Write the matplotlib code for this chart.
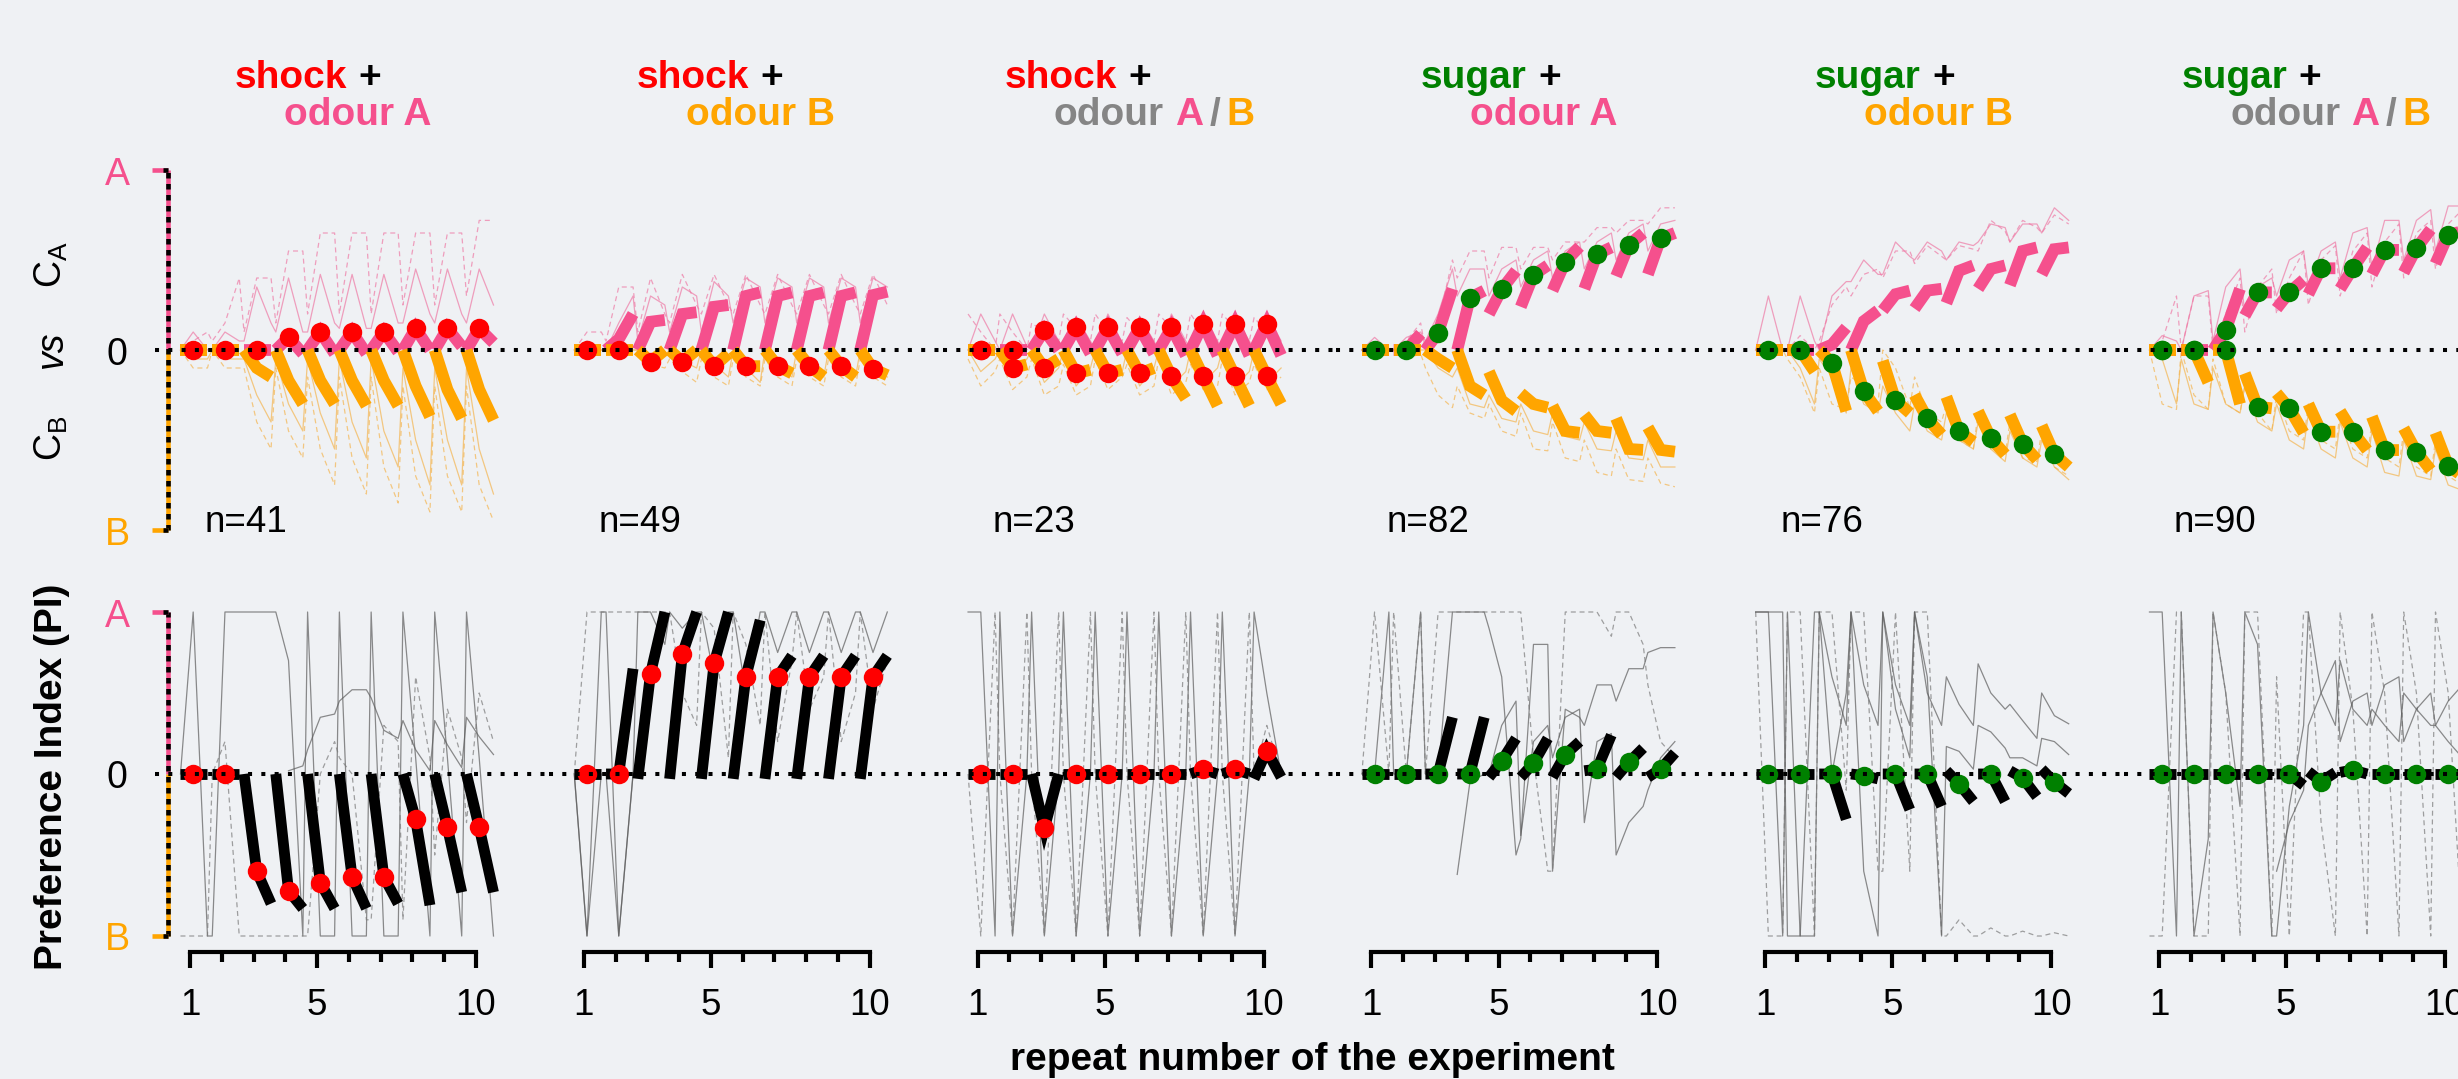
import numpy as np
import matplotlib
matplotlib.use("Agg")
import matplotlib.pyplot as plt

nan = np.nan

# ---------------- categories / labels ----------------
repeats = [1, 2, 3, 4, 5, 6, 7, 8, 9, 10]
xtick_values = [1, 5, 10]
us_names = ["shock", "shock", "shock", "sugar", "sugar", "sugar"]
cs_names = ["A", "B", "A/B", "A", "B", "A/B"]
n_values = [41, 49, 23, 82, 76, 90]
dot_sides = ["A", "B", "AB", "A", "B", "AB"]

# ---------------- panel 1: shock + odour A ----------------
P1_A_med = [(0,0,0),(0,0,0),(0,0,0),(0,.07,-.02),(0,.10,-.02),(0,.10,-.02),(0,.10,-.01),(0,.12,0),(0,.12,.02),(0,.12,.04)]
P1_B_med = [(0,0,0),(0,0,0),(0,-.10,-.15),(0,-.17,-.30),(0,-.17,-.30),(0,-.17,-.31),(0,-.17,-.31),(0,-.20,-.37),(0,-.22,-.38),(0,-.22,-.39)]
P1_A_s = [(0,.1,0),(0,.1,.05),(.05,.35,.15),(.1,.4,.1),(.1,.42,.15),(.12,.42,.12),(.12,.42,.15),(.15,.45,.2),(.15,.45,.2),(.15,.45,.25)]
P1_A_d = [(0,.05,.1),(.05,.15,.4),(.1,.4,.4),(.15,.55,.55),(.2,.65,.65),(.2,.65,.65),(.2,.65,.65),(.25,.65,.65),(.25,.65,.65),(.3,.72,.72)]
P1_B_s = [(0,-.05,-.05),(0,-.05,-.05),(-.05,-.25,-.4),(-.05,-.3,-.45),(-.05,-.35,-.55),(-.05,-.4,-.6),(-.05,-.45,-.65),(-.1,-.5,-.75),(-.1,-.5,-.75),(-.1,-.55,-.8)]
P1_B_d = [(0,-.1,-.1),(0,-.1,-.1),(-.1,-.4,-.55),(-.1,-.45,-.6),(-.15,-.55,-.75),(-.15,-.6,-.8),(-.15,-.65,-.85),(-.2,-.7,-.9),(-.2,-.7,-.9),(-.2,-.75,-.95)]
P1_PI_med = [(0,0,0),(0,0,0),(0,-.60,-.80),(0,-.72,-.83),(0,-.67,-.83),(0,-.635,-.83),(0,-.635,-.80),(0,-.28,-.81),(0,-.33,-.73),(0,-.33,-.73)]
P1_PI_s = [(0,1,-1),(-1,1,1),(1,1,1),(1,.7,-1),(1,-1,-1),(1,-1,-1),(1,-1,-1),(1,.1,-1),(1,.1,-1),(1,.1,-1)]
P1_PI_d = [(-1,-1,-1),(0,.2,-1),(-1,-1,-1),(-1,-1,-1),(-1,0,.2),(.1,0,-.9),(-.9,.3,.2),(-.9,.6,.1),(-.5,.4,.1),(-.3,.5,.2)]
P1_PI_e = [(nan,nan,nan),(nan,nan,nan),(nan,nan,nan),(nan,.02,.05),(.15,.35,.37),(.45,.52,.52),(.47,.27,.22),(.33,.15,.02),(.33,.18,.04),(.35,.23,.12)]

# ---------------- panel 2: shock + odour B ----------------
P2_A_med = [(0,0,0),(0,.06,.20),(0,.157,.167),(0,.20,.21),(0,.24,.25),(0,.30,.32),(0,.30,.32),(0,.30,.32),(0,.30,.32),(0,.305,.324)]
P2_B_med = [(0,0,0),(0,0,0),(0,-.065,0),(0,-.065,0),(0,-.09,-.02),(0,-.09,-.09),(0,-.09,-.13),(0,-.09,-.15),(0,-.09,-.15),(0,-.105,-.14)]
P2_A_s = [(0,.05,0),(0,.15,.3),(.05,.3,.25),(.1,.35,.3),(.1,.38,.3),(.15,.4,.35),(.15,.4,.35),(.15,.4,.35),(.15,.4,.35),(.15,.4,.35)]
P2_A_d = [(0,.1,.1),(.05,.35,.35),(.1,.4,.2),(.15,.42,.25),(.2,.42,.25),(.2,.42,.25),(.2,.42,.25),(.2,.42,.25),(.2,.42,.25),(.2,.42,.25)]
P2_B_s = [(0,-.02,0),(0,-.02,0),(0,-.05,-.03),(0,-.06,-.1),(0,-.08,-.15),(0,-.1,-.18),(0,-.1,-.15),(0,-.1,-.15),(0,-.1,-.15),(0,-.1,-.15)]
P2_B_d = [(0,-.05,0),(0,-.05,0),(0,-.08,-.1),(-.05,-.12,-.18),(-.05,-.15,-.2),(-.05,-.15,-.2),(-.05,-.15,-.2),(-.05,-.15,-.2),(-.05,-.15,-.2),(-.05,-.15,-.2)]
P2_PI_med = [(0,0,0),(0,0,.65),(-.03,.62,1.0),(-.03,.74,1.0),(-.03,.683,1.0),(-.03,.60,.95),(-.03,.60,.73),(-.03,.60,.73),(-.03,.60,.73),(-.03,.60,.73)]
P2_PI_s = [(0,-1,1),(1,-1,0),(1,1,.8),(1,.9,1),(1,.6,1),(1,.5,1),(1,.75,1),(1,.75,1),(1,.75,1),(1,.75,1)]
P2_PI_d = [(0,1,1),(1,1,1),(1,1,1),(1,.5,.3),(1,.9,.1),(1,.8,.3),(1,.2,.7),(1,.4,.6),(1,.2,.5),(1,.4,.7)]
P2_PI_e = [(0,-1,0),(0,-1,0),(nan,nan,nan),(nan,nan,nan),(nan,nan,nan),(nan,nan,nan),(nan,nan,nan),(nan,nan,nan),(nan,nan,nan),(nan,nan,nan)]

# ---------------- panel 3: shock + odour A/B ----------------
P3_A_med = [(0,0,0),(0,0,0),(0,.11,0),(0,.125,-.02),(0,.125,-.02),(0,.125,-.02),(0,.125,-.03),(0,.147,-.03),(0,.147,-.03),(0,.147,-.03)]
P3_B_med = [(0,0,0),(0,-.10,-.08),(0,-.10,-.05),(0,-.13,-.11),(0,-.13,-.11),(0,-.13,-.10),(0,-.147,-.27),(0,-.147,-.31),(0,-.147,-.31),(0,-.147,-.30)]
P3_A_s = [(0,.2,.05),(0,.2,.02),(0,.2,.05),(0,.18,.05),(0,.2,.04),(0,.18,.05),(0,.2,.05),(0,.2,.05),(0,.18,.05),(0,.2,.05)]
P3_A_d = [(.2,.1,0),(.2,.1,0),(.15,.1,.05),(.2,.12,.05),(.2,.1,.05),(.18,.1,.05),(.2,.12,.05),(.2,.1,.05),(.2,.12,.05),(.18,.1,.05)]
P3_B_s = [(0,-.12,-.05),(0,-.15,-.05),(0,-.18,-.1),(0,-.2,-.1),(0,-.18,-.12),(0,-.2,-.1),(0,-.2,-.12),(0,-.18,-.1),(0,-.2,-.12),(0,-.18,-.1)]
P3_B_d = [(-.05,-.2,-.12),(-.05,-.22,-.15),(-.05,-.25,-.2),(-.08,-.25,-.2),(-.05,-.22,-.15),(-.08,-.25,-.2),(-.05,-.25,-.18),(-.08,-.22,-.2),(-.05,-.25,-.18),(-.08,-.22,-.15)]
P3_PI_med = [(0,0,0),(0,0,0),(0,-.336,0),(0,0,0),(0,0,0),(0,0,0),(0,0,0),(0,.028,0),(0,.028,0),(-.03,.145,-.02)]
P3_PI_s = [(1,1,-1),(1,-1,0),(1,-1,0),(1,-1,0),(1,-1,0),(1,-1,0),(1,-1,0),(1,-1,0),(1,-1,0),(1,.5,0)]
P3_PI_d = [(0,-1,1),(0,-1,1),(0,-1,1),(0,-1,1),(0,-1,1),(0,-1,1),(0,-1,1),(0,-1,1),(0,-1,1),(0,.3,0)]
P3_PI_e = [(nan,nan,nan)] * 10

# ---------------- panel 4: sugar + odour A ----------------
P4_A_med = [(0,0,0),(0,0,.09),(0,.096,.34),(0,.29,.33),(.20,.337,.44),(.24,.417,.47),(.33,.49,.574),(.34,.533,.57),(.41,.583,.65),(.42,.62,.65)]
P4_B_med = [(0,0,0),(0,0,0),(0,-.05,-.10),(0,-.20,-.25),(-.12,-.28,-.34),(-.24,-.30,-.32),(-.31,-.45,-.46),(-.36,-.45,-.46),(-.38,-.55,-.555),(-.43,-.555,-.565)]
P4_A_s = [(0,.07,0),(0,.07,.1),(.05,.2,.45),(.3,.45,.45),(.3,.45,.5),(.35,.5,.55),(.4,.55,.6),(.45,.6,.65),(.5,.65,.7),(.55,.7,.72)]
P4_A_d = [(0,.03,0),(0,.05,.15),(0,.15,.5),(.4,.55,.55),(.4,.57,.57),(.45,.57,.57),(.5,.6,.6),(.6,.68,.68),(.65,.72,.72),(.7,.79,.79)]
P4_B_s = [(0,-.02,0),(0,-.02,0),(0,-.1,-.15),(-.1,-.3,-.32),(-.25,-.38,-.4),(-.3,-.45,-.47),(-.35,-.48,-.5),(-.4,-.55,-.56),(-.45,-.6,-.61),(-.5,-.65,-.65)]
P4_B_d = [(0,-.05,0),(0,-.05,-.02),(-.1,-.25,-.32),(-.2,-.35,-.38),(-.3,-.45,-.48),(-.35,-.55,-.56),(-.4,-.6,-.62),(-.5,-.68,-.7),(-.55,-.72,-.73),(-.6,-.74,-.76)]
P4_PI_med = [(0,0,0),(0,0,0),(0,0,.35),(0,0,.35),(-.02,.08,.22),(-.02,.066,.22),(-.02,.12,.20),(.02,.03,.24),(-.02,.072,.16),(-.02,.03,.13)]
P4_PI_s = [(0,0,1),(0,0,1),(0,0,1),(1,1,1),(.9,.6,-.5),(-.4,.8,.8),(-.6,.4,.35),(.3,.55,.55),(.45,.65,.65),(.75,.78,.78)]
P4_PI_d = [(0,1,0),(1,0,1),(0,1,1),(1,1,1),(1,1,1),(1,.1,-.6),(-.6,1,1),(1,1,.85),(1,1,.8),(.55,.2,.1)]
P4_PI_e = [(nan,nan,nan),(nan,nan,nan),(nan,nan,nan),(-.62,-.05,0),(0,.3,.45),(-.38,.2,.3),(.1,.35,.4),(-.3,.2,.25),(-.5,-.3,-.2),(-.1,.1,.2)]

# ---------------- panel 5: sugar + odour B ----------------
P5_A_med = [(0,0,0),(0,0,0),(0,.03,.125),(0,.16,.22),(.22,.31,.33),(.23,.33,.34),(.26,.44,.47),(.34,.45,.47),(.36,.55,.57),(.42,.56,.57)]
P5_B_med = [(0,0,0),(0,0,-.12),(0,-.072,-.34),(0,-.228,-.34),(-.06,-.28,-.35),(-.25,-.38,-.47),(-.26,-.452,-.51),(-.34,-.49,-.58),(-.36,-.52,-.61),(-.42,-.58,-.65)]
P5_A_s = [(0,.3,0),(0,.3,.05),(0,.3,.38),(.38,.5,.42),(.42,.6,.52),(.5,.6,.55),(.5,.6,.58),(.6,.7,.68),(.6,.7,.7),(.65,.79,.72)]
P5_A_d = [(0,.05,0),(0,.08,0),(.05,.25,.35),(.3,.42,.45),(.4,.55,.55),(.48,.58,.52),(.5,.58,.56),(.55,.72,.66),(.6,.72,.68),(.65,.75,.7)]
P5_B_s = [(0,-.03,0),(0,-.1,-.3),(-.05,-.15,-.35),(-.1,-.3,-.35),(-.2,-.35,-.45),(-.3,-.45,-.5),(-.35,-.5,-.55),(-.4,-.55,-.62),(-.45,-.6,-.65),(-.5,-.65,-.72)]
P5_B_d = [(0,-.05,0),(-.05,-.15,-.35),(-.1,-.3,-.33),(-.15,-.2,-.3),(0,-.1,-.32),(-.15,-.35,-.4),(-.3,-.5,-.55),(-.35,-.55,-.58),(-.4,-.6,-.62),(-.45,-.65,-.7)]
P5_PI_med = [(0,0,0),(0,0,0),(0,0,-.28),(0,-.01,-.03),(0,0,-.22),(0,0,-.20),(.02,-.06,-.17),(0,0,-.17),(.02,-.024,-.14),(.03,-.05,-.12)]
P5_PI_s = [(1,1,-1),(1,-1,-1),(1,.6,.3),(1,.55,.3),(1,.55,.3),(1,.5,.3),(.6,.43,.3),(.68,.5,.4),(.43,.33,.22),(.5,.36,.31)]
P5_PI_d = [(1,-1,-1),(1,1,-1),(1,1,-.1),(1,1,-.6),(-.6,1,-.6),(1,1,-1),(-1,-.9,-1),(-1,-.95,-1),(-1,-.97,-1),(-1,-.98,-1)]
P5_PI_e = [(1,1,1),(-1,-1,1),(1,0,.5),(1,-.6,-1),(1,.4,.1),(1,.6,-1),(.17,.14,.03),(.3,.26,.16),(.1,.1,.05),(.22,.2,.12)]

# ---------------- panel 6: sugar + odour A/B ----------------
P6_A_med = [(0,0,0),(0,0,0),(0,.111,.34),(.19,.32,.32),(.23,.32,.39),(.31,.454,.454),(.34,.454,.57),(.42,.556,.556),(.43,.565,.67),(.48,.64,.66)]
P6_B_med = [(0,0,0),(0,0,-.18),(0,0,-.30),(-.13,-.315,-.324),(-.24,-.324,-.46),(-.30,-.454,-.454),(-.34,-.454,-.556),(-.37,-.556,-.556),(-.435,-.565,-.667),(-.46,-.644,-.70)]
P6_A_s = [(0,.08,.05),(0,.3,.33),(.05,.35,.45),(.2,.35,.4),(.3,.5,.55),(.35,.55,.6),(.4,.65,.68),(.45,.72,.72),(.5,.72,.78),(.55,.8,.8)]
P6_A_d = [(0,.05,.3),(0,.3,.3),(0,.2,.4),(.1,.35,.45),(.2,.4,.55),(.25,.5,.58),(.3,.55,.65),(.35,.6,.7),(.4,.65,.72),(.45,.7,.78)]
P6_B_s = [(0,-.05,-.3),(-.05,-.3,-.33),(-.1,-.3,-.35),(-.2,-.4,-.45),(-.3,-.5,-.55),(-.35,-.55,-.6),(-.4,-.6,-.65),(-.45,-.68,-.7),(-.5,-.7,-.72),(-.55,-.75,-.78)]
P6_B_d = [(0,-.3,-.33),(0,-.25,-.33),(-.05,-.3,-.35),(-.2,-.35,-.45),(-.25,-.45,-.5),(-.3,-.5,-.55),(-.35,-.55,-.6),(-.4,-.6,-.65),(-.45,-.65,-.7),(-.5,-.7,-.75)]
P6_PI_med = [(0,0,0),(0,0,0),(0,0,0),(0,0,0),(0,0,-.07),(.015,-.047,.01),(.01,.025,0),(0,0,0),(0,0,0),(0,0,0)]
P6_PI_s = [(1,1,-1),(1,-1,-.4),(1,.5,-.2),(1,.8,-1),(-1,-.2,.3),(1,.5,.3),(.7,.4,.3),(.4,.3,.2),(.5,.4,.3),(.3,.2,.1)]
P6_PI_d = [(-1,-1,1),(1,-1,-1),(1,.5,-1),(1,1,-1),(.6,-1,1),(1,-.3,-1),(1,.4,-1),(1,.5,-1),(1,.5,-1),(1,.5,-1)]
P6_PI_e = [(nan,nan,nan),(nan,nan,nan),(nan,nan,nan),(nan,nan,nan),(-.6,-.3,-.1),(.3,.5,.7),(.2,.45,.5),(.3,.55,.6),(.2,.4,.5),(.3,.45,.55)]

panels = [
    dict(A=P1_A_med, B=P1_B_med, As=P1_A_s, Ad=P1_A_d, Bs=P1_B_s, Bd=P1_B_d, PI=P1_PI_med, PIs=P1_PI_s, PId=P1_PI_d, PIe=P1_PI_e),
    dict(A=P2_A_med, B=P2_B_med, As=P2_A_s, Ad=P2_A_d, Bs=P2_B_s, Bd=P2_B_d, PI=P2_PI_med, PIs=P2_PI_s, PId=P2_PI_d, PIe=P2_PI_e),
    dict(A=P3_A_med, B=P3_B_med, As=P3_A_s, Ad=P3_A_d, Bs=P3_B_s, Bd=P3_B_d, PI=P3_PI_med, PIs=P3_PI_s, PId=P3_PI_d, PIe=P3_PI_e),
    dict(A=P4_A_med, B=P4_B_med, As=P4_A_s, Ad=P4_A_d, Bs=P4_B_s, Bd=P4_B_d, PI=P4_PI_med, PIs=P4_PI_s, PId=P4_PI_d, PIe=P4_PI_e),
    dict(A=P5_A_med, B=P5_B_med, As=P5_A_s, Ad=P5_A_d, Bs=P5_B_s, Bd=P5_B_d, PI=P5_PI_med, PIs=P5_PI_s, PId=P5_PI_d, PIe=P5_PI_e),
    dict(A=P6_A_med, B=P6_B_med, As=P6_A_s, Ad=P6_A_d, Bs=P6_B_s, Bd=P6_B_d, PI=P6_PI_med, PIs=P6_PI_s, PId=P6_PI_d, PIe=P6_PI_e),
]

# ---------------- style ----------------
BG = "#eff1f4"
PINK = "#f5508d"
PINK_THIN = "#ee7aa5"
ORANGE = "#ffa500"
ORANGE_THIN = "#f4b550"
RED = "#ff0000"
GREEN = "#008000"
GRAY = "#858585"
FONT = "Liberation Sans"

plt.rcParams["font.family"] = [FONT, "DejaVu Sans"]
plt.rcParams["mathtext.fontset"] = "custom"
plt.rcParams["mathtext.rm"] = FONT
plt.rcParams["mathtext.it"] = FONT + ":italic"

W, H = 2458, 1079
UNIT = 31.78
SUB = np.array([-0.3, 0.1, 0.55])
BOLD_SIZE = 28
REG_SIZE = 26.5

fig = plt.figure(figsize=(W / 100, H / 100), dpi=100)
fig.patch.set_facecolor(BG)


def x0_of(k):
    return 190 + 393.8 * k


def make_ax(k, top, height, zero_px, scale):
    left = x0_of(k) - 35
    width = 394
    ax = fig.add_axes([left / W, 1 - (top + height) / H, width / W, height / H])
    ax.set_xlim(1 - 35 / UNIT, 1 + (width - 35) / UNIT)
    ax.set_ylim((zero_px - (top + height)) / scale, (zero_px - top) / scale)
    ax.axis("off")
    return ax


def thick(ax, med, color, lw, z):
    for i, tri in zip(repeats, med):
        ax.plot(i + SUB, tri, color=color, lw=lw, solid_capstyle="butt",
                solid_joinstyle="miter", zorder=z)


def thin(ax, trace, color, ls, lw, alpha, z):
    xs = np.concatenate([i + SUB for i in repeats])
    ys = np.array(trace, dtype=float).ravel()
    ax.plot(xs, ys, color=color, lw=lw, ls=ls, alpha=alpha, zorder=z)


def mids(med):
    return [tri[1] for tri in med]


DASH = (0, (4, 3))
TOP_ZERO, TOP_SCALE = 350, 180
BOT_ZERO, BOT_SCALE = 774, 162

for k, p in enumerate(panels):
    dotc = RED if us_names[k] == "shock" else GREEN
    # ---------- top row ----------
    ax = make_ax(k, 140, 420, TOP_ZERO, TOP_SCALE)
    thin(ax, p["As"], PINK_THIN, "-", 0.9, 0.7, 1)
    thin(ax, p["Ad"], PINK_THIN, DASH, 0.9, 0.7, 1)
    thin(ax, p["Bs"], ORANGE_THIN, "-", 0.9, 0.7, 1)
    thin(ax, p["Bd"], ORANGE_THIN, DASH, 0.9, 0.7, 1)
    thick(ax, p["A"], PINK, 8.5, 3)
    thick(ax, p["B"], ORANGE, 8.5, 4)
    xd = np.array(repeats) + SUB[1]
    if "A" in dot_sides[k]:
        ax.plot(xd, mids(p["A"]), "o", color=dotc, ms=14, mew=0, zorder=8)
    if "B" in dot_sides[k]:
        ax.plot(xd, mids(p["B"]), "o", color=dotc, ms=14, mew=0, zorder=8)
    ax.axhline(0, color="k", lw=2.9, ls=(0, (1, 2.3)), zorder=10)
    ax.text(1.47, (TOP_ZERO - 532) / TOP_SCALE, f"n={n_values[k]}", fontsize=REG_SIZE,
            ha="left", va="baseline", color="k")
    top_ax = ax

    # ---------- bottom row ----------
    ax = make_ax(k, 585, 420, BOT_ZERO, BOT_SCALE)
    thin(ax, p["PIs"], "#5c5c5c", "-", 0.9, 0.7, 1)
    thin(ax, p["PId"], "#7a7a7a", DASH, 0.9, 0.7, 1)
    thin(ax, p["PIe"], "#5c5c5c", "-", 0.9, 0.7, 1)
    thick(ax, p["PI"], "black", 7.8, 3)
    ax.plot(xd, mids(p["PI"]), "o", color=dotc, ms=14, mew=0, zorder=8)
    ax.axhline(0, color="k", lw=2.9, ls=(0, (1, 2.3)), zorder=10)
    # x axis
    ya = (BOT_ZERO - 952) / BOT_SCALE
    ax.plot([1, 10], [ya, ya], color="k", lw=3, clip_on=False, solid_capstyle="projecting")
    for t in repeats:
        L = 16 if t in xtick_values else 10
        ax.plot([t, t], [ya, ya - L / BOT_SCALE], color="k", lw=3, clip_on=False,
                solid_capstyle="butt")
    for t in xtick_values:
        ax.text(t, (BOT_ZERO - 1015) / BOT_SCALE, str(t), fontsize=REG_SIZE, ha="center",
                va="baseline", clip_on=False)
    bot_ax = ax

    if k == 0:
        xs = 1 + (168 - 190) / UNIT
        xt = 1 + (152 - 190) / UNIT
        xl = 1 + (117 - 190) / UNIT
        for a, zero_px, scale, ybase in ((top_ax, TOP_ZERO, TOP_SCALE, (185, 365, 545)),
                                         (bot_ax, BOT_ZERO, BOT_SCALE, (627, 788, 950))):
            a.plot([xs, xs], [0, 1], color=PINK, lw=3.3, clip_on=False, solid_capstyle="butt")
            a.plot([xs, xs], [-1, 0], color=ORANGE, lw=3.3, clip_on=False, solid_capstyle="butt")
            a.plot([xs, xs], [-1, 1], color="k", lw=3.3, ls=(0, (1.2, 1.2)), clip_on=False)
            a.plot([xt, xs], [1, 1], color=PINK, lw=3.3, clip_on=False, solid_capstyle="butt")
            a.plot([xt, xs], [-1, -1], color=ORANGE, lw=3.3, clip_on=False, solid_capstyle="butt")
            a.plot([xt + 0.35, xs], [1, 1], color="k", lw=3.3, clip_on=False, solid_capstyle="butt")
            a.plot([xt + 0.35, xs], [-1, -1], color="k", lw=3.3, clip_on=False, solid_capstyle="butt")
            for lab, col, yb in zip(("A", "0", "B"), (PINK, "k", ORANGE), ybase):
                a.text(xl, (zero_px - yb) / scale, lab, color=col, fontsize=27,
                       ha="center", va="baseline", clip_on=False)

# ---------------- y labels ----------------
def fig_text(xp, yp, s, **kw):
    return fig.text(xp / W, 1 - yp / H, s, **kw)

fig_text(62, 265, r"$\mathregular{C_A}$", fontsize=27, rotation=90, rotation_mode="anchor",
         ha="center", va="baseline")
fig_text(62, 349, "vs", fontsize=27, style="italic", rotation=90, rotation_mode="anchor",
         ha="center", va="baseline")
fig_text(62, 438, r"$\mathregular{C_B}$", fontsize=27, rotation=90, rotation_mode="anchor",
         ha="center", va="baseline")
fig_text(62, 777, "Preference Index (PI)", fontsize=BOLD_SIZE, fontweight="bold", rotation=90,
         rotation_mode="anchor", ha="center", va="baseline")
fig_text(1312, 1070, "repeat number of the experiment", fontsize=BOLD_SIZE, fontweight="bold",
         ha="center", va="baseline")

# ---------------- titles ----------------
renderer = fig.canvas.get_renderer()


def width_of(s):
    t = fig.text(0, 0, s, fontsize=BOLD_SIZE, fontweight="bold")
    w = t.get_window_extent(renderer).width
    t.remove()
    return w


def draw_parts(x, base, parts):
    for txt, col, gap in parts:
        t = fig_text(x, base, txt, fontsize=BOLD_SIZE, fontweight="bold", color=col,
                     ha="left", va="baseline")
        x += t.get_window_extent(renderer).width + gap


title_shift = [-9, 0, 0, -4, -3, -5]
for k in range(6):
    usc = RED if us_names[k] == "shock" else GREEN
    if cs_names[k] == "A":
        line2 = [("odour A", PINK, 0)]
    elif cs_names[k] == "B":
        line2 = [("odour B", ORANGE, 0)]
    else:
        line2 = [("odour", GRAY, 11), ("A", PINK, 6), ("/", GRAY, 6), ("B", ORANGE, 0)]
    w2 = sum(width_of(s) + g for s, _, g in line2)
    center = x0_of(k) + 5.55 * UNIT + title_shift[k]
    left2 = center - w2 / 2
    draw_parts(left2, 125, line2)
    draw_parts(left2 - 49, 88, [(us_names[k], usc, 11), ("+", "k", 0)])

fig.savefig("out.png", dpi=100, facecolor=BG)
